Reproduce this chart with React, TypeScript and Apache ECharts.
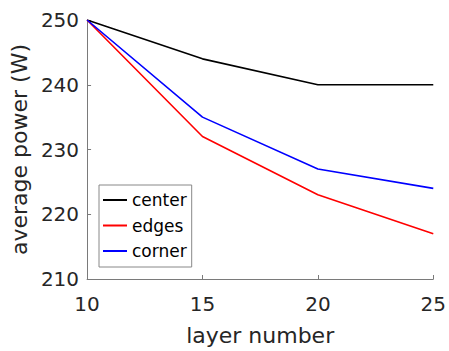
import React, { useEffect, useRef } from "react";
import * as echarts from "echarts";

const layers = [10, 15, 20, 25];
const center = [250, 244, 240, 240];
const edges = [250, 232, 223, 217];
const corner = [250, 235, 227, 224];
const seriesNames = ["center", "edges", "corner"];
const xTicks = [10, 15, 20, 25];
const yTicks = [210, 220, 230, 240, 250];

const FONT = "DejaVu Sans, Verdana, sans-serif";
const TXT = "#262626";
const AX = "#7a7a7a";

export default function App() {
  const ref = useRef<HTMLDivElement>(null);
  useEffect(() => {
    document.body.style.margin = "0";
    if (!ref.current) return;
    const chart = echarts.init(ref.current, null, { renderer: "svg" });
    const mk = (name: string, vals: number[], color: string) => ({
      name,
      type: "line",
      data: layers.map((x, i) => [x, vals[i]]),
      showSymbol: false,
      lineStyle: { color, width: 1.6 },
      itemStyle: { color },
    });
    chart.setOption({
      animation: false,
      backgroundColor: "#ffffff",
      grid: { left: 80, top: 20, right: 14, bottom: 67, containLabel: false },
      xAxis: {
        type: "value",
        min: xTicks[0],
        max: xTicks[xTicks.length - 1],
        interval: 5,
        name: "layer number",
        nameLocation: "middle",
        nameGap: 45,
        nameTextStyle: { fontFamily: FONT, fontSize: 22, color: TXT },
        axisLine: { show: true, lineStyle: { color: AX, width: 1 } },
        axisTick: { show: true, inside: true, length: 4, lineStyle: { color: AX } },
        axisLabel: { fontFamily: FONT, fontSize: 20, color: TXT, margin: 15 },
        splitLine: { show: false },
      },
      yAxis: {
        type: "value",
        min: yTicks[0],
        max: yTicks[yTicks.length - 1],
        interval: 10,
        name: "average power (W)",
        nameLocation: "middle",
        nameGap: 50,
        nameRotate: 90,
        nameTextStyle: { fontFamily: FONT, fontSize: 22, color: TXT },
        axisLine: { show: true, lineStyle: { color: AX, width: 1 } },
        axisTick: { show: true, inside: true, length: 4, lineStyle: { color: AX } },
        axisLabel: { fontFamily: FONT, fontSize: 20, color: TXT, margin: 8 },
        splitLine: { show: false },
      },
      legend: {
        data: seriesNames,
        orient: "vertical",
        left: 99,
        top: 185,
        padding: [5, 5, 6, 4],
        itemGap: 5.5,
        itemWidth: 24,
        itemHeight: 2,
        icon: "rect",
        borderColor: "#888",
        borderWidth: 1,
        backgroundColor: "#fff",
        textStyle: { fontFamily: FONT, fontSize: 17, color: "#000", lineHeight: 20 },
      },
      series: [
        mk(seriesNames[0], center, "#000000"),
        mk(seriesNames[1], edges, "#ff0000"),
        mk(seriesNames[2], corner, "#0000ff"),
      ],
    });
    return () => chart.dispose();
  }, []);
  return <div ref={ref} style={{ width: 449, height: 351 }} />;
}
